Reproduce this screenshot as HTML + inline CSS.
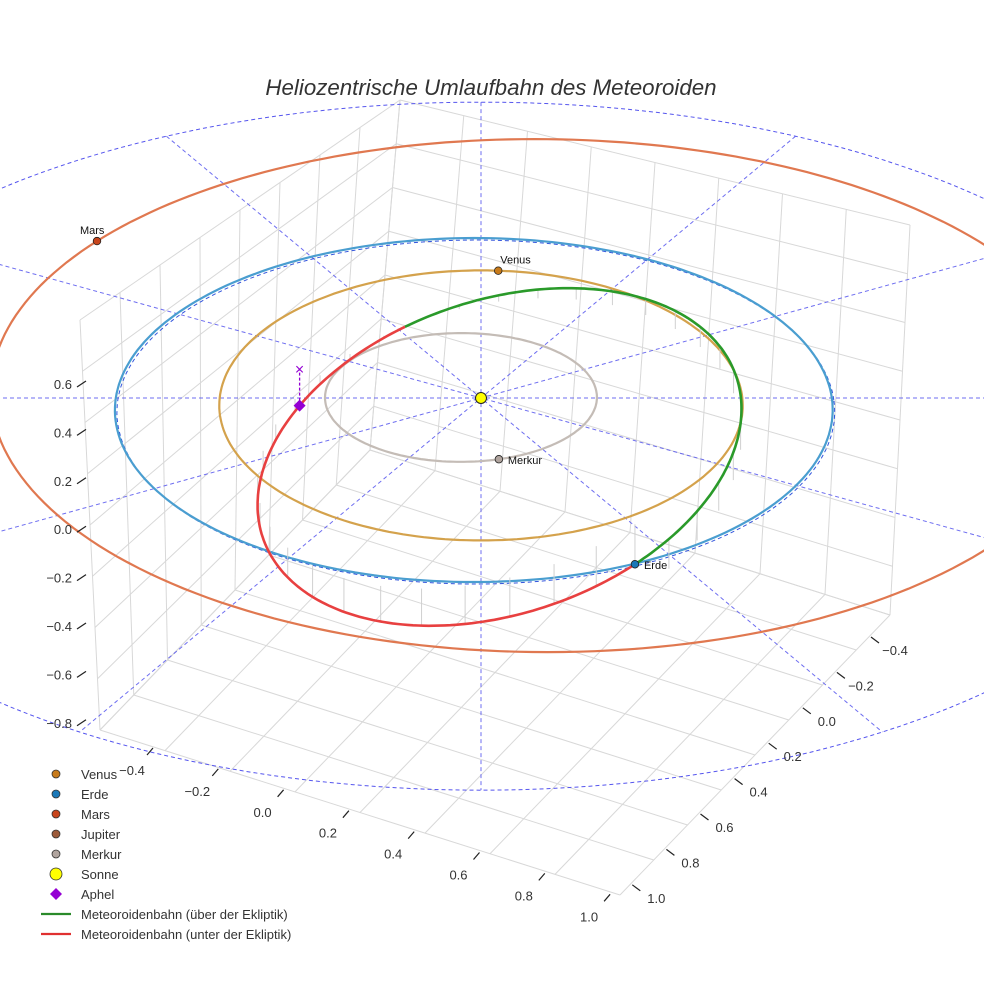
<!DOCTYPE html>
<html><head><meta charset="utf-8">
<style>
html,body{margin:0;padding:0;background:#fff;}
svg{display:block;font-family:"Liberation Sans",sans-serif;}
</style></head>
<body>
<svg id="chart" width="984" height="984" viewBox="0 0 984 984">
<rect width="984" height="984" fill="#fff"/>
<g id="grid"></g>
<g id="guides"></g>
<g id="orbits"></g>
<g id="ticks"></g>
<text x="491" y="95" text-anchor="middle" font-size="22.3" font-style="italic" fill="#333">Heliozentrische Umlaufbahn des Meteoroiden</text>
<g id="legend"></g>
</svg>
<script>
// ---- data ----
const planetNames = ["Venus","Erde","Mars","Merkur"];
const planetRadiiU = [0.73, 1.0, 1.55, 0.38];
const planetRadiiV = [0.785, 1.0, 1.53, 0.375];
const planetCenterU = [0.0, -0.02, 0.17, -0.056];
const planetCenterV = [0.0, 0.0, -0.18, -0.013];
const planetAngles = [86, -65, 148.5, -74];
const planetColors = ["#c77a1a","#1a78b8","#c8451c","#b0a49e"];
const orbitColors = ["#d4a24c","#4a9ed0","#e07850","#c4bcb6"];
const zTicks = ["0.6","0.4","0.2","0.0","−0.2","−0.4","−0.6","−0.8"];
const xTicks = ["−0.4","−0.2","0.0","0.2","0.4","0.6","0.8","1.0"];
const yTicks = ["−0.4","−0.2","0.0","0.2","0.4","0.6","0.8","1.0"];
const guideAngles = [0,30,60,90,120,150];
const guideRadius = 2.0;
// meteoroid orbit ellipse (ecliptic frame)
const metCenter = [0.063, 0.275];
const metAxes = [0.663, 0.945];
const metPhase = -0.295;
const metEarthT = 1.03;
const metSplitT = -2.01;
const aphelT = -2.6;
const legendLabels = ["Venus","Erde","Mars","Jupiter","Merkur","Sonne","Aphel","Meteoroidenbahn (über der Ekliptik)","Meteoroidenbahn (unter der Ekliptik)"];
const legendColors = ["#c77a1a","#1a78b8","#c8451c","#9c5a3a","#b0a49e","#ffff00","#9400d3","#2a8a2a","#e03030"];

// ---- projection ----
const NS="http://www.w3.org/2000/svg";
function P(u,v){const k=1+0.07*v;return [481+358*u*k,398+172*v*k];}
function el(tag,attrs,parent){const e=document.createElementNS(NS,tag);for(const k in attrs)e.setAttribute(k,attrs[k]);parent.appendChild(e);return e;}
function pathFrom(pts){return pts.map((p,i)=>(i?"L":"M")+p[0].toFixed(1)+","+p[1].toFixed(1)).join("");}
const grid=document.getElementById("grid"),guides=document.getElementById("guides"),orbits=document.getElementById("orbits"),ticks=document.getElementById("ticks"),legend=document.getElementById("legend");

// ---- box grid ----
const TL=[80,320],TB=[400,100],TR=[910,225],BL=[100,730],BF=[620,895],BR=[890,615],BB=[370,450];
function lerp(a,b,t){return [a[0]+(b[0]-a[0])*t,a[1]+(b[1]-a[1])*t];}
function quadGrid(a,b,c,d,n,name){
  for(let i=0;i<=n;i++){const t=i/n;
    const l1=el("line",{x1:lerp(a,b,t)[0],y1:lerp(a,b,t)[1],x2:lerp(d,c,t)[0],y2:lerp(d,c,t)[1],stroke:"#d8d8d8","stroke-width":1},grid);
    
    
    const l2=el("line",{x1:lerp(a,d,t)[0],y1:lerp(a,d,t)[1],x2:lerp(b,c,t)[0],y2:lerp(b,c,t)[1],stroke:"#d8d8d8","stroke-width":1},grid);
    
    
  }
}
quadGrid(TL,TB,BB,BL,8,"left-wall");
quadGrid(TB,TR,BR,BB,8,"right-wall");
quadGrid(BB,BR,BF,BL,8,"floor");

// ---- guides ----
guideAngles.forEach(a=>{const r=a*Math.PI/180;const u=Math.cos(r)*guideRadius,v=-Math.sin(r)*guideRadius;
  const p1=P(u,v),p2=P(-u,-v);
  const l=el("line",{x1:p1[0],y1:p1[1],x2:p2[0],y2:p2[1],stroke:"#5555ee","stroke-width":1,"stroke-dasharray":"4,3",opacity:0.85},guides);
  
  
});
function ell(cu,cv,ru,rv){const pts=[];for(let i=0;i<=240;i++){const t=i/240*2*Math.PI;pts.push(P(cu+ru*Math.cos(t),cv-rv*Math.sin(t)));}return pts;}
const ge=el("path",{d:pathFrom(ell(0,0,guideRadius,guideRadius)),fill:"none",stroke:"#5555ee","stroke-width":1,"stroke-dasharray":"4,3"},guides);


const ge2=el("path",{d:pathFrom(ell(-0.02,0,1.0,1.0)),fill:"none",stroke:"#3355dd","stroke-width":1,"stroke-dasharray":"4,3",transform:"translate(2,2)"},guides);



// ---- orbits ----
planetNames.forEach((n,i)=>{
  const o=el("path",{d:pathFrom(ell(planetCenterU[i],planetCenterV[i],planetRadiiU[i],planetRadiiV[i])),fill:"none",stroke:orbitColors[i],"stroke-width":2.2},orbits);
  
  
});
function met(t){return P(metCenter[0]+metAxes[0]*Math.cos(t),metCenter[1]+metAxes[1]*Math.sin(t+metPhase));}
function metPts(t0,t1){const p=[];for(let i=0;i<=150;i++)p.push(met(t0+(t1-t0)*i/150));return p;}
for(let i=0;i<36;i++){const t=metEarthT-i/36*2*Math.PI;const p=met(t);
  const above=(t<metEarthT&&t>metSplitT);
  const d=el("line",{x1:p[0],y1:p[1],x2:p[0],y2:p[1]+(above?30:-40)*Math.abs(Math.sin((t-metSplitT)/2)),stroke:"#d0d0d0","stroke-width":1},orbits);
  
  
}
const g=el("path",{d:pathFrom(metPts(metEarthT,metSplitT)),fill:"none",stroke:"#2a9a2a","stroke-width":2.6},orbits);


const rd=el("path",{d:pathFrom(metPts(metSplitT,metEarthT-2*Math.PI)),fill:"none",stroke:"#e84040","stroke-width":2.6},orbits);



planetNames.forEach((n,i)=>{
  const a=planetAngles[i]*Math.PI/180;
  let p=P(planetCenterU[i]+planetRadiiU[i]*Math.cos(a),planetCenterV[i]-planetRadiiV[i]*Math.sin(a));
  if(n==="Erde")p=met(metEarthT);
  const c=el("circle",{cx:p[0],cy:p[1],r:3.8,fill:planetColors[i],stroke:"#222","stroke-width":0.8},orbits);
  
  
  const tx=el("text",{x:p[0]+(n==="Mars"?-17:(n==="Venus"?2:9)),y:p[1]+(n==="Venus"||n==="Mars"?-7:5),"font-size":11,fill:"#111"},orbits);
  tx.textContent=n;
  
  
});
const s=P(0,0);
const sun=el("circle",{cx:s[0],cy:s[1],r:5.5,fill:"#ffff00",stroke:"#222","stroke-width":1},orbits);


const ap=met(aphelT);
const al=el("line",{x1:ap[0],y1:ap[1],x2:ap[0],y2:ap[1]-36,stroke:"#9400d3","stroke-width":1.3,"stroke-dasharray":"3,2"},orbits);


const ax=el("text",{x:ap[0],y:ap[1]-31,"font-size":16,fill:"#9400d3","text-anchor":"middle"},orbits);
ax.textContent="×";


const ad=el("path",{d:`M${ap[0]},${ap[1]-6}L${ap[0]+6},${ap[1]}L${ap[0]},${ap[1]+6}L${ap[0]-6},${ap[1]}Z`,fill:"#9400d3"},orbits);



// ---- ticks ----
zTicks.forEach((t,i)=>{const y=384+i*48.4;
  const tx=el("text",{x:72,y:y+5,"font-size":13,fill:"#333","text-anchor":"end"},ticks);tx.textContent=t;
  
  const l=el("line",{x1:77,y1:y+3,x2:86,y2:y-3,stroke:"#222","stroke-width":1.2},ticks);
  
});
xTicks.forEach((t,i)=>{const x=132+i*65.3,y=775+i*20.9;
  const tx=el("text",{x:x,y:y,"font-size":13,fill:"#333","text-anchor":"middle"},ticks);tx.textContent=t;
  
  const l=el("line",{x1:x+15,y1:y-20,x2:x+21,y2:y-27,stroke:"#222","stroke-width":1.2},ticks);
  
});
yTicks.forEach((t,i)=>{const x=895-i*34.1,y=655+i*35.4;
  const tx=el("text",{x:x,y:y,"font-size":13,fill:"#333","text-anchor":"middle"},ticks);tx.textContent=t;
  
  const l=el("line",{x1:x-24,y1:y-18,x2:x-16,y2:y-12,stroke:"#222","stroke-width":1.2},ticks);
  
});

// ---- legend ----
legendLabels.forEach((lab,i)=>{const y=774+i*20;
  let m;
  if(i<5){m=el("circle",{cx:56,cy:y,r:4,fill:legendColors[i],stroke:"#333","stroke-width":0.8},legend);}
  else if(i===5){m=el("circle",{cx:56,cy:y,r:6,fill:legendColors[i],stroke:"#333","stroke-width":0.8},legend);}
  else if(i===6){m=el("path",{d:`M56,${y-6}L62,${y}L56,${y+6}L50,${y}Z`,fill:legendColors[i]},legend);}
  else{m=el("line",{x1:41,y1:y,x2:71,y2:y,stroke:legendColors[i],"stroke-width":2.2},legend);}
  
  
  const tx=el("text",{x:81,y:y+5,"font-size":13,fill:"#333"},legend);tx.textContent=lab;
  
  
});
</script>
</body></html>
